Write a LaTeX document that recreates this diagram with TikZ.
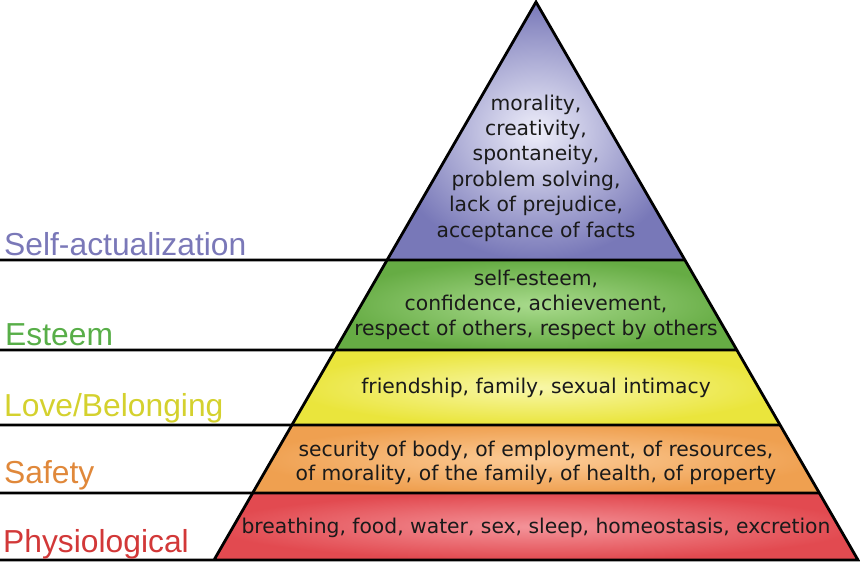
\documentclass[tikz,border=0pt]{standalone}
\usepackage{fontspec}
\setmainfont{DejaVu Sans}
\newfontfamily\labelfont{Liberation Sans}
\usetikzlibrary{calc}
\definecolor{purin}{HTML}{EEEEFA}
\definecolor{purout}{HTML}{7878B8}
\definecolor{grnin}{HTML}{A8DA8C}
\definecolor{grnout}{HTML}{66AC44}
\definecolor{yelin}{HTML}{F8F7A8}
\definecolor{yelout}{HTML}{EAE53C}
\definecolor{orain}{HTML}{FCCC98}
\definecolor{oraout}{HTML}{EFA050}
\definecolor{redin}{HTML}{F4949A}
\definecolor{redout}{HTML}{E24A50}
\definecolor{labpur}{HTML}{7A78B8}
\definecolor{labgrn}{HTML}{58AE48}
\definecolor{labyel}{HTML}{D4D12E}
\definecolor{labora}{HTML}{E0883A}
\definecolor{labred}{HTML}{D23838}
\definecolor{txtdark}{HTML}{1A1A1A}
\begin{document}
\begin{tikzpicture}[x=1pt,y=-1pt,
  edge/.style={line width=2.8pt, draw=black, line join=miter},
  lvltext/.style={align=center, anchor=base, inner sep=0pt, text=txtdark},
  lvllabel/.style={anchor=base west, inner sep=0pt, font=\labelfont\fontsize{31.8}{36}\selectfont}]
\useasboundingbox (0,0) rectangle (860,563);
\coordinate (A) at (536,2);
\coordinate (BL) at (214,560);
\coordinate (BR) at (858,560);
\coordinate (L1) at ($(A)!0.46237!(BL)$);
\coordinate (R1) at ($(A)!0.46237!(BR)$);
\coordinate (L2) at ($(A)!0.62366!(BL)$);
\coordinate (R2) at ($(A)!0.62366!(BR)$);
\coordinate (L3) at ($(A)!0.75806!(BL)$);
\coordinate (R3) at ($(A)!0.75806!(BR)$);
\coordinate (L4) at ($(A)!0.87993!(BL)$);
\coordinate (R4) at ($(A)!0.87993!(BR)$);
\coordinate (E1) at (0,260);
\coordinate (E2) at (0,350);
\coordinate (E3) at (0,425);
\coordinate (E4) at (0,493);
\coordinate (E5) at (0,560);
% level fills
\shade[inner color=purin, outer color=purout] (A) -- (R1) -- (L1) -- cycle;
\shade[inner color=grnin, outer color=grnout] (L1) -- (R1) -- (R2) -- (L2) -- cycle;
\shade[inner color=yelin, outer color=yelout] (L2) -- (R2) -- (R3) -- (L3) -- cycle;
\shade[inner color=orain, outer color=oraout] (L3) -- (R3) -- (R4) -- (L4) -- cycle;
\shade[inner color=redin, outer color=redout] (L4) -- (R4) -- (BR) -- (BL) -- cycle;
% outlines
\draw[edge] (E5) -- (BR) -- (A) -- (BL);
\draw[edge] (E1) -- (R1);
\draw[edge] (E2) -- (R2);
\draw[edge] (E3) -- (R3);
\draw[edge] (E4) -- (R4);
% texts inside (anchor=base is the baseline of the last line)
\node[lvltext, font=\fontsize{20.3}{25.4}\selectfont] (t1) at (536,237)
  {morality,\\creativity,\\spontaneity,\\problem solving,\\lack of prejudice,\\acceptance of facts};
\node[lvltext, font=\fontsize{20.3}{25}\selectfont] (t2) at (536,335)
  {self-esteem,\\confidence, achievement,\\respect of others, respect by others};
\node[lvltext, font=\fontsize{20.3}{24.5}\selectfont] (t3) at (536,393)
  {friendship, family, sexual intimacy};
\node[lvltext, font=\fontsize{20.3}{24}\selectfont] (t4) at (536,480)
  {security of body, of employment, of resources,\\of morality, of the family, of health, of property};
\node[lvltext, font=\fontsize{20.3}{24.5}\selectfont] (t5) at (536,533)
  {breathing, food, water, sex, sleep, homeostasis, excretion};
% labels
\node[lvllabel, text=labpur] (lab1) at (4,255) {Self-actualization};
\node[lvllabel, text=labgrn] (lab2) at (5,345) {Esteem};
\node[lvllabel, text=labyel] (lab3) at (4,416) {Love/Belonging};
\node[lvllabel, text=labora] (lab4) at (4,483) {Safety};
\node[lvllabel, text=labred] (lab5) at (3,552) {Physiological};
\end{tikzpicture}
\end{document}
